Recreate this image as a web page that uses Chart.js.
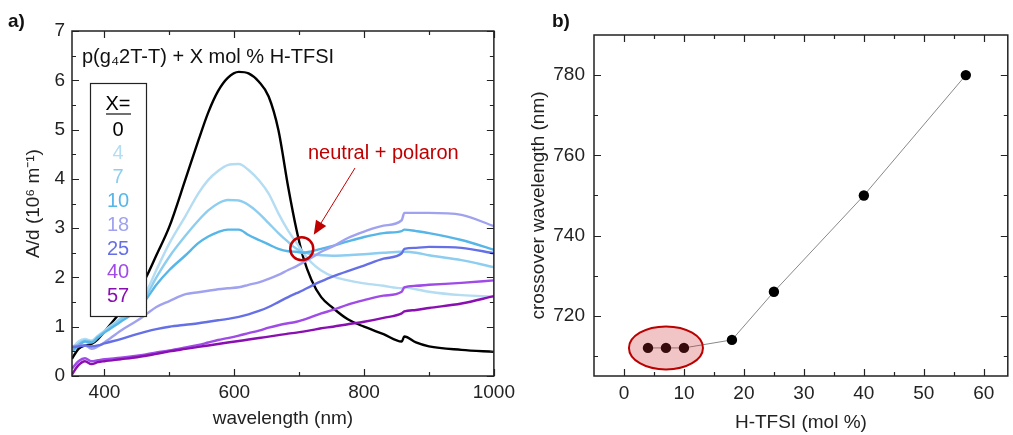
<!DOCTYPE html>
<html>
<head>
<meta charset="utf-8">
<script src="https://cdn.jsdelivr.net/npm/chart.js@4"></script>
<style>
html, body { margin: 0; padding: 0; background: #fff; }
#wrapA { position: absolute; left: 0; top: 0; width: 520px; height: 435px; }
#wrapB { position: absolute; left: 520px; top: 0; width: 493px; height: 435px; }
</style>
</head>
<body>
<div id="wrapA"><canvas id="spectra"></canvas></div>
<div id="wrapB"><canvas id="crossover"></canvas></div>
<script>
// ---- panel a) spectra, A/d (10^6 m^-1) vs wavelength (nm)
const wavelengths = [350, 360, 370, 380, 390, 400, 425, 450, 464, 480, 500, 525, 545, 560, 575, 590, 607, 622, 638, 653, 668, 683, 696, 706, 719, 734, 752, 775, 800, 830, 858, 862, 880, 900, 950, 1000];

const absX0  = [0.35, 0.55, 0.62, 0.65, 0.75, 0.9, 1.3, 1.7, 2.0, 2.45, 3.03, 4.0, 4.79, 5.35, 5.78, 6.05, 6.17, 6.14, 5.97, 5.67, 4.99, 3.84, 2.96, 2.42, 1.95, 1.6, 1.38, 1.15, 1.0, 0.85, 0.7, 0.8, 0.68, 0.6, 0.53, 0.49];
const absX4  = [0.55, 0.7, 0.75, 0.72, 0.82, 0.92, 1.18, 1.45, 1.7, 2.15, 2.69, 3.25, 3.71, 3.98, 4.16, 4.28, 4.3, 4.18, 3.97, 3.7, 3.3, 2.95, 2.7, 2.5, 2.3, 2.14, 2.02, 1.94, 1.88, 1.83, 1.78, 1.8, 1.76, 1.71, 1.64, 1.61];
const absX7  = [0.5, 0.65, 0.72, 0.7, 0.8, 0.9, 1.15, 1.4, 1.62, 2.0, 2.42, 2.85, 3.16, 3.36, 3.5, 3.57, 3.56, 3.47, 3.3, 3.1, 2.9, 2.72, 2.58, 2.52, 2.47, 2.45, 2.44, 2.45, 2.47, 2.5, 2.52, 2.52, 2.5, 2.45, 2.35, 2.21];
const absX10 = [0.5, 0.62, 0.7, 0.68, 0.78, 0.88, 1.1, 1.33, 1.55, 1.85, 2.15, 2.45, 2.7, 2.83, 2.92, 2.97, 2.97, 2.86, 2.76, 2.67, 2.58, 2.53, 2.52, 2.5, 2.53, 2.58, 2.64, 2.73, 2.82, 2.9, 2.94, 2.97, 2.94, 2.9, 2.76, 2.56];
const absX18 = [0.6, 0.62, 0.62, 0.55, 0.6, 0.68, 0.92, 1.12, 1.25, 1.4, 1.52, 1.66, 1.7, 1.73, 1.76, 1.78, 1.8, 1.85, 1.9, 1.97, 2.05, 2.15, 2.23, 2.3, 2.4, 2.52, 2.63, 2.8, 2.93, 3.05, 3.16, 3.31, 3.31, 3.31, 3.27, 3.04];
const absX25 = [0.58, 0.6, 0.62, 0.6, 0.62, 0.66, 0.75, 0.85, 0.9, 0.95, 1.0, 1.04, 1.07, 1.1, 1.13, 1.16, 1.2, 1.25, 1.32, 1.4, 1.5, 1.6, 1.68, 1.74, 1.83, 1.92, 2.02, 2.13, 2.24, 2.38, 2.49, 2.58, 2.6, 2.62, 2.6, 2.49];
const absX40 = [0.15, 0.3, 0.36, 0.3, 0.32, 0.34, 0.37, 0.41, 0.44, 0.48, 0.52, 0.58, 0.63, 0.68, 0.73, 0.77, 0.82, 0.87, 0.92, 0.98, 1.03, 1.07, 1.1, 1.14, 1.2, 1.27, 1.34, 1.45, 1.54, 1.63, 1.71, 1.8, 1.83, 1.85, 1.89, 1.94];
const absX57 = [0.03, 0.22, 0.3, 0.24, 0.28, 0.3, 0.34, 0.38, 0.41, 0.45, 0.5, 0.55, 0.59, 0.62, 0.65, 0.68, 0.71, 0.74, 0.77, 0.8, 0.83, 0.86, 0.88, 0.9, 0.93, 0.97, 1.0, 1.05, 1.1, 1.18, 1.27, 1.31, 1.34, 1.38, 1.47, 1.62];

const dopingLabels = ["0", "4", "7", "10", "18", "25", "40", "57"];
const dopingColors = ["#000000", "#b4dcf2", "#8dcdf0", "#57b6e8", "#a0a2f0", "#6670e6", "#a04ae8", "#8a0fb0"];
const spectra = [absX0, absX4, absX7, absX10, absX18, absX25, absX40, absX57];

const waveTicks = [400, 600, 800, 1000];
const waveMinor = [500, 700, 900];
const absTicks = [0, 1, 2, 3, 4, 5, 6, 7];
const absMinor = [0.5, 1.5, 2.5, 3.5, 4.5, 5.5, 6.5];

// ---- panel b) crossover wavelength vs H-TFSI content
const molPercent = [4, 7, 10, 18, 25, 40, 57];
const crossoverNm = [712, 712, 712, 714, 726, 750, 780];
const molTicks = [0, 10, 20, 30, 40, 50, 60];
const molMinor = [5, 15, 25, 35, 45, 55];
const nmTicks = [720, 740, 760, 780];
const nmMinor = [710, 730, 750, 770];

const FONT = '"Liberation Sans", Arial, sans-serif';
Chart.defaults.font.family = FONT;
Chart.defaults.color = '#222';

// box around the plot area with inward ticks on all four sides
function framePlugin(xMaj, xMin, yMaj, yMin) {
    return {
        id: 'frame',
        afterDraw(chart) {
            const { ctx, chartArea: a, scales: { x, y } } = chart;
            ctx.save();
            ctx.strokeStyle = '#222';
            ctx.lineWidth = 1.5;
            ctx.strokeRect(a.left, a.top, a.right - a.left, a.bottom - a.top);
            ctx.lineWidth = 1.2;
            ctx.beginPath();
            const xt = (vals, len) => vals.forEach(v => {
                const px = Math.round(x.getPixelForValue(v)) + 0.5;
                ctx.moveTo(px, a.bottom); ctx.lineTo(px, a.bottom - len);
                ctx.moveTo(px, a.top); ctx.lineTo(px, a.top + len);
            });
            const yt = (vals, len) => vals.forEach(v => {
                const py = Math.round(y.getPixelForValue(v)) + 0.5;
                ctx.moveTo(a.left, py); ctx.lineTo(a.left + len, py);
                ctx.moveTo(a.right, py); ctx.lineTo(a.right - len, py);
            });
            xt(xMaj, 7); xt(xMin, 4); yt(yMaj, 7); yt(yMin, 4);
            ctx.stroke();
            ctx.restore();
        }
    };
}

const annotateSpectra = {
    id: 'annotateSpectra',
    afterDatasetsDraw(chart) {
        const { ctx, scales: { x, y } } = chart;
        ctx.save();
        // panel label
        ctx.fillStyle = '#111';
        ctx.font = 'bold 19px ' + FONT;
        ctx.textBaseline = 'middle';
        ctx.fillText('a)', 8, 22);
        // sample title
        ctx.font = '20px ' + FONT;
        ctx.fillText('p(g\u20842T-T) + X mol % H-TFSI', 82, 57);
        // legend box
        ctx.fillStyle = '#fff';
        ctx.fillRect(90, 83, 57, 234);
        ctx.strokeStyle = '#222';
        ctx.lineWidth = 1.2;
        ctx.strokeRect(90.5, 83.5, 56, 233);
        ctx.textAlign = 'center';
        ctx.fillStyle = '#000';
        ctx.fillText('X=', 118, 104);
        ctx.beginPath();
        ctx.moveTo(106, 114); ctx.lineTo(131, 114);
        ctx.lineWidth = 1.3;
        ctx.stroke();
        dopingLabels.forEach((lab, i) => {
            ctx.fillStyle = dopingColors[i];
            ctx.fillText(lab, 118, 130 + i * 23.8);
        });
        // crossover marker
        const red = '#c00000';
        const cx = x.getPixelForValue(704), cy = y.getPixelForValue(2.58);
        ctx.strokeStyle = red;
        ctx.lineWidth = 2.5;
        ctx.beginPath();
        ctx.arc(cx, cy, 11.5, 0, Math.PI * 2);
        ctx.stroke();
        ctx.textAlign = 'left';
        ctx.fillStyle = red;
        ctx.fillText('neutral + polaron', 308, 153);
        // arrow
        const tipX = cx + 12, tipY = cy - 14;
        const tailX = 355, tailY = 168;
        const ang = Math.atan2(tipY - tailY, tipX - tailX);
        ctx.lineWidth = 1;
        ctx.beginPath();
        ctx.moveTo(tailX, tailY);
        ctx.lineTo(tipX - 10 * Math.cos(ang), tipY - 10 * Math.sin(ang));
        ctx.stroke();
        ctx.beginPath();
        ctx.moveTo(tipX, tipY);
        ctx.lineTo(tipX - 14 * Math.cos(ang) + 6 * Math.sin(ang), tipY - 14 * Math.sin(ang) - 6 * Math.cos(ang));
        ctx.lineTo(tipX - 14 * Math.cos(ang) - 6 * Math.sin(ang), tipY - 14 * Math.sin(ang) + 6 * Math.cos(ang));
        ctx.closePath();
        ctx.fill();
        ctx.restore();
    }
};

new Chart(document.getElementById('spectra'), {
    type: 'line',
    data: {
        datasets: spectra.map((vals, i) => ({
            label: 'X=' + dopingLabels[i],
            data: wavelengths.map((w, j) => ({ x: w, y: vals[j] })),
            borderColor: dopingColors[i],
            borderWidth: 2.4,
            pointRadius: 0,
            cubicInterpolationMode: 'monotone',
            fill: false
        })).reverse()
    },
    options: {
        responsive: true,
        maintainAspectRatio: false,
        animation: false,
        layout: { padding: { top: 31, right: 23, left: 0, bottom: 0 } },
        plugins: { legend: { display: false }, tooltip: { enabled: false } },
        scales: {
            x: {
                type: 'linear',
                min: 350, max: 1000,
                afterBuildTicks: s => { s.ticks = waveTicks.map(v => ({ value: v })); },
                afterFit: s => { s.height = 59; },
                grid: { display: false, drawTicks: false },
                border: { display: false },
                ticks: { padding: 5, font: { size: 19 }, color: '#222', callback: v => String(v) },
                title: { display: true, text: 'wavelength (nm)', font: { size: 19 }, color: '#222', padding: { bottom: 5 } }
            },
            y: {
                min: 0, max: 7,
                afterBuildTicks: s => { s.ticks = absTicks.map(v => ({ value: v })); },
                afterFit: s => { s.width = 72; },
                grid: { display: false, drawTicks: false },
                border: { display: false },
                ticks: { padding: 7, font: { size: 19 }, color: '#222', callback: v => String(v) },
                title: { display: true, text: 'A/d (10\u2076 m\u207B\u00B9)', font: { size: 19 }, color: '#222', padding: { top: 22 } }
            }
        }
    },
    plugins: [annotateSpectra, framePlugin(waveTicks, waveMinor, absTicks, absMinor)]
});

const annotateCrossover = {
    id: 'annotateCrossover',
    afterDatasetsDraw(chart) {
        const { ctx, scales: { x, y } } = chart;
        ctx.save();
        ctx.fillStyle = '#111';
        ctx.font = 'bold 19px ' + FONT;
        ctx.textBaseline = 'middle';
        ctx.fillText('b)', 32, 22);
        // highlight of the low-doping points
        const ex = x.getPixelForValue(7), ey = y.getPixelForValue(712);
        ctx.beginPath();
        ctx.ellipse(ex, ey, 37, 21.5, 0, 0, Math.PI * 2);
        ctx.fillStyle = 'rgba(205, 40, 40, 0.27)';
        ctx.fill();
        ctx.strokeStyle = '#bb0000';
        ctx.lineWidth = 2;
        ctx.stroke();
        ctx.restore();
    }
};

new Chart(document.getElementById('crossover'), {
    type: 'line',
    data: {
        datasets: [{
            label: 'crossover',
            data: molPercent.map((m, i) => ({ x: m, y: crossoverNm[i] })),
            borderColor: '#888',
            borderWidth: 1,
            pointRadius: 5.2,
            pointBackgroundColor: '#000',
            pointBorderColor: '#000',
            pointBorderWidth: 0,
            tension: 0
        }]
    },
    options: {
        responsive: true,
        maintainAspectRatio: false,
        animation: false,
        layout: { padding: { top: 35, right: 1, left: 0, bottom: 0 } },
        plugins: { legend: { display: false }, tooltip: { enabled: false } },
        scales: {
            x: {
                type: 'linear',
                min: -5, max: 64,
                afterBuildTicks: s => { s.ticks = molTicks.map(v => ({ value: v })); },
                afterFit: s => { s.height = 59; },
                grid: { display: false, drawTicks: false },
                border: { display: false },
                ticks: { padding: 6, font: { size: 19 }, color: '#222', callback: v => String(v) },
                title: { display: true, text: 'H-TFSI (mol %)', font: { size: 19 }, color: '#222', padding: { bottom: 1 } }
            },
            y: {
                min: 705, max: 790,
                afterBuildTicks: s => { s.ticks = nmTicks.map(v => ({ value: v })); },
                afterFit: s => { s.width = 74; },
                grid: { display: false, drawTicks: false },
                border: { display: false },
                ticks: { padding: 9, font: { size: 19 }, color: '#222', callback: v => String(v) },
                title: { display: true, text: 'crossover wavelength (nm)', font: { size: 19 }, color: '#222', padding: { top: 7 } }
            }
        }
    },
    plugins: [annotateCrossover, framePlugin(molTicks, molMinor, nmTicks, nmMinor)]
});
</script>
</body>
</html>
